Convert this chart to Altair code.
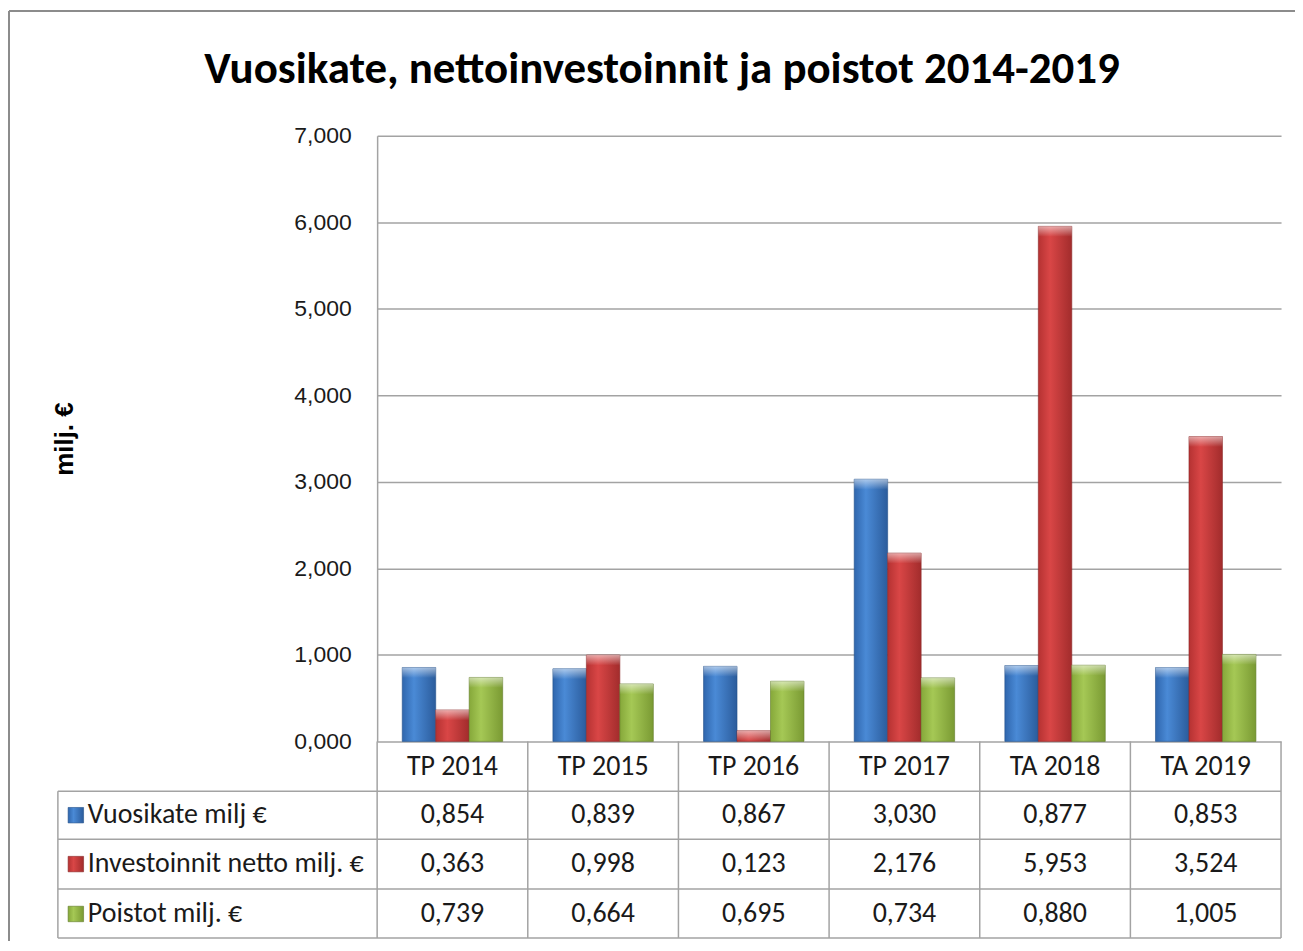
import altair as alt
import pandas as pd

title_text = "Vuosikate, nettoinvestoinnit ja poistot 2014-2019"
categories = ["TP 2014", "TP 2015", "TP 2016", "TP 2017", "TA 2018", "TA 2019"]
series_names = ["Vuosikate milj €", "Investoinnit netto milj. €", "Poistot milj. €"]
vuosikate = [0.854, 0.839, 0.867, 3.030, 0.877, 0.853]
investoinnit = [0.363, 0.998, 0.123, 2.176, 5.953, 3.524]
poistot = [0.739, 0.664, 0.695, 0.734, 0.880, 1.005]
y_ticks = [0, 1, 2, 3, 4, 5, 6, 7]

rows = []
for s, vals in zip(series_names, [vuosikate, investoinnit, poistot]):
    for c, v in zip(categories, vals):
        rows.append({"category": c, "series": s, "value": v})
df = pd.DataFrame(rows)
cat_df = pd.DataFrame({"category": categories})
one = pd.DataFrame({"k": [0]})

W, H = 906, 607
FONT_T = "Carlito, Lato, sans-serif"
FONT_A = "Liberation Sans, Arial, sans-serif"
LINE = "#a3a3a3"

def grad(c0, c1, c2):
    return {"gradient": "linear", "x1": 0, "x2": 1, "y1": 0, "y2": 0,
            "stops": [{"offset": 0, "color": c0}, {"offset": 0.35, "color": c1},
                      {"offset": 1, "color": c2}]}

fills = [grad("#2f66ad", "#4a8ad6", "#2b5c9c"),
         grad("#b53232", "#d94646", "#a22c2c"),
         grad("#86a83a", "#a5c855", "#7a9a33")]
edges = ["#24508a", "#8a2626", "#5f7a26"]
bevel = {"gradient": "linear", "x1": 0, "x2": 0, "y1": 0, "y2": 1,
         "stops": [{"offset": 0, "color": "rgba(255,255,255,0.55)"},
                   {"offset": 1, "color": "rgba(255,255,255,0)"}]}

x_enc = alt.X("category:N", sort=categories,
              scale=alt.Scale(domain=categories, paddingInner=0, paddingOuter=0),
              axis=None)
xoff = alt.XOffset("series:N", sort=series_names,
                   scale=alt.Scale(domain=series_names, paddingInner=0, paddingOuter=0.75))
y_enc = alt.Y("value:Q",
              scale=alt.Scale(domain=[0, 7], nice=False),
              axis=alt.Axis(values=y_ticks,
                            labelExpr="replace(format(datum.value,'.3f'),'.',',')",
                            grid=True, gridColor=LINE, gridWidth=1.5,
                            domain=True, domainColor=LINE, domainWidth=1.5,
                            ticks=False, tickSize=0, labelPadding=26,
                            labelFont=FONT_A, labelFontSize=23, labelColor="#1a1a1a",
                            title="milj. €", titleFont=FONT_A, titleFontSize=26,
                            titleFontWeight="bold", titleColor="#000000",
                            titleAngle=270, titleX=-313, titleY=303.5,
                            titleAlign="center", titleBaseline="middle"))

layers = []

# outer frame
layers.append(alt.Chart(one).mark_rule(color="#8c8c8c", strokeWidth=2).encode(
    x=alt.value(-369), y=alt.value(-125), y2=alt.value(830)))
layers.append(alt.Chart(one).mark_rule(color="#8c8c8c", strokeWidth=2).encode(
    x=alt.value(-369), x2=alt.value(940), y=alt.value(-125)))

# title
layers.append(alt.Chart(pd.DataFrame({"t": [title_text]})).mark_text(
    font=FONT_T, fontSize=45, fontWeight="bold", color="#000000",
    align="center", baseline="middle").encode(
    x=alt.value(285.5), y=alt.value(-67), text="t:N"))

# bars
for s, f, e in zip(series_names, fills, edges):
    layers.append(alt.Chart(df).transform_filter(alt.datum.series == s).mark_bar(
        fill=f, stroke=e, strokeWidth=0.6).encode(x=x_enc, xOffset=xoff, y=y_enc))
    layers.append(alt.Chart(df).transform_filter(alt.datum.series == s).transform_calculate(
        bev="max(datum.value - 0.12, 0)").mark_bar(fill=bevel).encode(
        x=x_enc, xOffset=xoff, y=y_enc, y2="bev:Q"))

# table rules
row_lines = [657, 705, 755, 804]
for yy in row_lines:
    layers.append(alt.Chart(one).mark_rule(color=LINE, strokeWidth=1.5).encode(
        x=alt.value(-320), x2=alt.value(W), y=alt.value(yy)))
layers.append(alt.Chart(cat_df).mark_rule(color=LINE, strokeWidth=1.5).encode(
    x=alt.X("category:N", sort=categories, bandPosition=0,
            scale=alt.Scale(domain=categories, paddingInner=0, paddingOuter=0), axis=None),
    y=alt.value(H), y2=alt.value(804)))
layers.append(alt.Chart(one).mark_rule(color=LINE, strokeWidth=1.5).encode(
    x=alt.value(W), y=alt.value(H), y2=alt.value(804)))
layers.append(alt.Chart(one).mark_rule(color=LINE, strokeWidth=1.5).encode(
    x=alt.value(-320), y=alt.value(657), y2=alt.value(804)))

# category header
layers.append(alt.Chart(cat_df).mark_text(
    font=FONT_T, fontSize=28, color="#1a1a1a", baseline="middle").encode(
    x=x_enc, y=alt.value(633), text="category:N"))

# table rows
row_centers = [681, 730, 780]
for s, f, e, yc in zip(series_names, fills, edges, row_centers):
    layers.append(alt.Chart(pd.DataFrame({"series": [s]})).mark_square(
        size=240, fill=f, stroke=e, strokeWidth=0.6, opacity=1).encode(
        x=alt.value(-302), y=alt.value(yc)))
    layers.append(alt.Chart(pd.DataFrame({"series": [s]})).mark_text(
        font=FONT_T, fontSize=28, color="#1a1a1a", align="left", baseline="middle").encode(
        x=alt.value(-290), y=alt.value(yc), text="series:N"))
    layers.append(alt.Chart(df).transform_filter(alt.datum.series == s).transform_calculate(
        label="replace(format(datum.value,'.3f'),'.',',')").mark_text(
        font=FONT_T, fontSize=28, color="#1a1a1a", baseline="middle").encode(
        x=x_enc, y=alt.value(yc), text="label:N"))

chart = alt.layer(*layers).properties(
    width=W, height=H,
    background="white",
    autosize=alt.AutoSizeParams(type="none"),
    padding={"left": 370, "top": 127, "right": 14, "bottom": 199},
).configure_view(stroke=None)

chart.save("out.html", embed_options={"renderer": "svg", "actions": False})
